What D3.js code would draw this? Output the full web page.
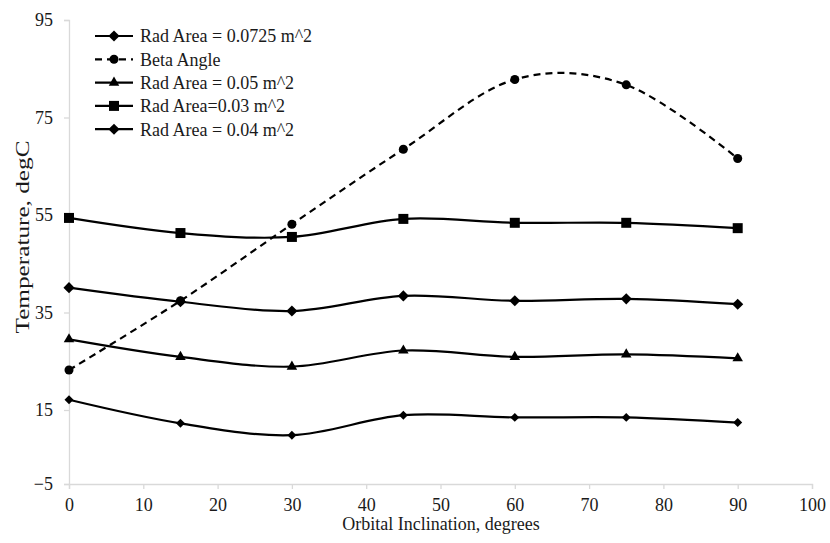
<!DOCTYPE html>
<html>
<head>
<meta charset="utf-8">
<script src="https://cdn.jsdelivr.net/npm/d3@7"></script>
<style>
  body { margin: 0; background: #fff; }
  text { font-family: "Liberation Serif", "Times New Roman", serif; fill: #1a1a1a; }
</style>
</head>
<body>
<div id="chart"></div>
<script>
"use strict";

// orbital inclination, degrees
const inclination = [0, 15, 30, 45, 60, 75, 90];

const radArea0725 = [17.1, 11.4, 8.2, 13.6, 13.0, 13.0, 11.6];
const betaAngle   = [23.2, 37.4, 53.1, 68.5, 82.8, 81.7, 66.6];
const radArea05   = [29.5, 25.9, 23.9, 27.2, 25.9, 26.4, 25.6];
const radArea03   = [54.4, 51.3, 50.5, 54.2, 53.4, 53.4, 52.3];
const radArea04   = [40.1, 37.2, 35.3, 38.4, 37.4, 37.8, 36.7];

const xTicks = [0, 10, 20, 30, 40, 50, 60, 70, 80, 90, 100];
const yTicks = [-5, 15, 35, 55, 75, 95];

const seriesNames = ["Rad Area = 0.0725 m^2", "Beta Angle", "Rad Area = 0.05 m^2", "Rad Area=0.03 m^2", "Rad Area = 0.04 m^2"];
const seriesValues = [radArea0725, betaAngle, radArea05, radArea03, radArea04];
const seriesMarkers = ["diamondSmall", "circle", "triangle", "square", "diamond"];
const seriesDashed = [false, true, false, false, false];

const size = {
    width: 830,
    height: 543,
    left: 69,
    right: 812,
    top: 20,
    bottom: 484
};

const svg = d3.select("#chart")
    .append("svg")
    .attr("width", size.width)
    .attr("height", size.height);

const xScale = d3.scaleLinear()
    .domain([0, 100])
    .range([size.left, size.right]);

// the picture's value axis is not evenly spaced below 15
const yScale = d3.scaleLinear()
    .domain([-5, 15, 95])
    .range([size.bottom, 410, size.top]);

// axes
const xAxis = d3.axisBottom(xScale).tickValues(xTicks).tickSize(5).tickPadding(9);
const gx = svg.append("g")
    .attr("transform", "translate(0," + size.bottom + ")")
    .call(xAxis);
gx.select(".domain").attr("stroke", "#d9d9d9").attr("stroke-width", 1.3);
gx.selectAll(".tick line").attr("stroke", "#d9d9d9").attr("stroke-width", 1.3);
gx.selectAll(".tick text")
    .style("font-family", "Liberation Serif")
    .style("font-size", "18px")
    .attr("fill", "#1a1a1a");

const yAxis = d3.axisLeft(yScale).tickValues(yTicks).tickSize(5).tickPadding(11)
    .tickFormat(d => d < 0 ? "\u2212" + Math.abs(d) : d);
const gy = svg.append("g")
    .attr("transform", "translate(" + size.left + ",0)")
    .call(yAxis);
gy.select(".domain").attr("stroke", "#d9d9d9").attr("stroke-width", 1.3);
gy.selectAll(".tick line").attr("stroke", "#d9d9d9").attr("stroke-width", 1.3);
gy.selectAll(".tick text")
    .style("font-family", "Liberation Serif")
    .style("font-size", "18px")
    .attr("fill", "#1a1a1a");

// axis titles
svg.append("text")
    .attr("x", 441)
    .attr("y", 530)
    .attr("text-anchor", "middle")
    .style("font-size", "18px")
    .text("Orbital Inclination, degrees");

svg.append("text")
    .attr("transform", "translate(23,237) rotate(-90)")
    .attr("text-anchor", "middle")
    .attr("dy", "0.35em")
    .attr("textLength", 193)
    .attr("lengthAdjust", "spacingAndGlyphs")
    .style("font-size", "18px")
    .text("Temperature, degC");

function markerPath(kind) {
    if (kind === "circle") return d3.symbol(d3.symbolCircle, 64)();
    if (kind === "triangle") return d3.symbol(d3.symbolTriangle, 48)();
    if (kind === "square") return d3.symbol(d3.symbolSquare, 100)();
    if (kind === "diamond") return d3.symbol(d3.symbolSquare, 62)();
    return d3.symbol(d3.symbolSquare, 40)();
}

function markerRotate(kind) {
    return (kind === "diamond" || kind === "diamondSmall") ? " rotate(45)" : "";
}

const line = d3.line()
    .x((d, i) => xScale(inclination[i]))
    .y(d => yScale(d))
    .curve(d3.curveCardinal.tension(0));

const plot = svg.append("g");

seriesValues.forEach(function (vals, k) {
    plot.append("path")
        .datum(vals)
        .attr("d", line)
        .attr("fill", "none")
        .attr("stroke", "#000")
        .attr("stroke-width", 2.2)
        .attr("stroke-dasharray", seriesDashed[k] ? "7,5" : null);

    plot.selectAll(".m" + k)
        .data(vals)
        .enter()
        .append("path")
        .attr("class", "m" + k)
        .attr("d", markerPath(seriesMarkers[k]))
        .attr("transform", (d, i) => "translate(" + xScale(inclination[i]) + "," + yScale(d) + ")" + markerRotate(seriesMarkers[k]))
        .attr("fill", "#000");
});

// legend
const legend = svg.append("g").attr("transform", "translate(95,36)");
seriesNames.forEach(function (name, k) {
    const row = legend.append("g").attr("transform", "translate(0," + (k * 23.3) + ")");
    row.append("line")
        .attr("x1", 0).attr("x2", 38)
        .attr("y1", 0).attr("y2", 0)
        .attr("stroke", "#000")
        .attr("stroke-width", 2.2)
        .attr("stroke-dasharray", seriesDashed[k] ? "7,5" : null);
    const kind = seriesMarkers[k] === "diamondSmall" ? "diamond" : seriesMarkers[k];
    row.append("path")
        .attr("d", markerPath(kind))
        .attr("transform", "translate(19,0)" + markerRotate(kind))
        .attr("fill", "#000");
    row.append("text")
        .attr("x", 45)
        .attr("y", 0)
        .attr("dy", "0.35em")
        .style("font-size", "18px")
        .text(name);
});
</script>
</body>
</html>
